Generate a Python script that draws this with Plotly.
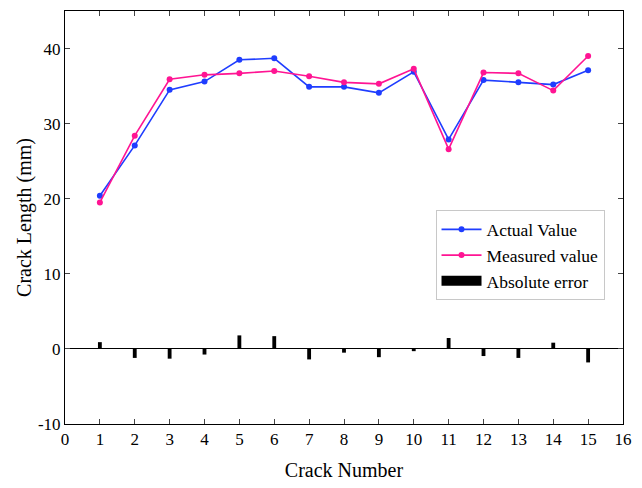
import plotly.graph_objects as go

crack = list(range(1, 16))
actual = [20.4, 27.1, 34.5, 35.6, 38.5, 38.7, 34.9, 34.9, 34.1, 36.9, 27.9, 35.8, 35.5, 35.2, 37.1]
measured = [19.5, 28.4, 35.9, 36.5, 36.7, 37.0, 36.3, 35.5, 35.3, 37.3, 26.6, 36.8, 36.7, 34.4, 39.0]
abs_error = [0.9, -1.2, -1.3, -0.75, 1.8, 1.7, -1.4, -0.5, -1.1, -0.3, 1.45, -0.95, -1.2, 0.83, -1.8]
y_ticks = [-10, 0, 10, 20, 30, 40]

font = "Liberation Serif, Times New Roman, serif"

fig = go.Figure()
fig.add_trace(go.Scatter(x=crack, y=actual, mode="lines+markers", name="Actual Value",
                         line=dict(color="#1f3dff", width=1.6),
                         marker=dict(size=6, color="#1f3dff")))
fig.add_trace(go.Scatter(x=crack, y=measured, mode="lines+markers", name="Measured value",
                         line=dict(color="#ff1493", width=1.6),
                         marker=dict(size=6, color="#ff1493")))
fig.add_trace(go.Bar(x=crack, y=abs_error, name="Absolute error", width=0.11,
                     showlegend=False,
                     marker=dict(color="black", line=dict(width=0))))
# legend-only entry so the legend shows a wide black rectangle
fig.add_trace(go.Scatter(x=[None], y=[None], mode="lines", name="Absolute error",
                         line=dict(color="black", width=10), hoverinfo="skip"))

fig.update_layout(
    width=642, height=488,
    margin=dict(l=65, r=11, t=10, b=64),
    paper_bgcolor="white", plot_bgcolor="white",
    font=dict(family=font, size=17, color="black"),
    showlegend=True,
    legend=dict(x=0.664, y=0.517, xanchor="left", yanchor="top",
                bordercolor="#c8c8c8", borderwidth=1, bgcolor="white",
                font=dict(size=17.5, family=font), tracegroupgap=0,
                itemwidth=40),
    xaxis=dict(range=[0, 16], dtick=1, tick0=0, ticks="inside", ticklen=5,
               showline=True, linecolor="black", linewidth=1, mirror="ticks",
               showgrid=False, zeroline=False,
               title=dict(text="Crack Number", font=dict(size=20, family=font), standoff=14),
               tickfont=dict(size=17, family=font)),
    yaxis=dict(range=[-10, 45], tickvals=y_ticks, ticktext=[str(v) for v in y_ticks],
               ticks="inside", ticklen=5,
               showline=True, linecolor="black", linewidth=1, mirror="ticks",
               showgrid=False, zeroline=True, zerolinecolor="black", zerolinewidth=1,
               title=dict(text="Crack Length (mm)", font=dict(size=20, family=font), standoff=0),
               tickfont=dict(size=17, family=font)),
)

fig.write_html("out.html")
